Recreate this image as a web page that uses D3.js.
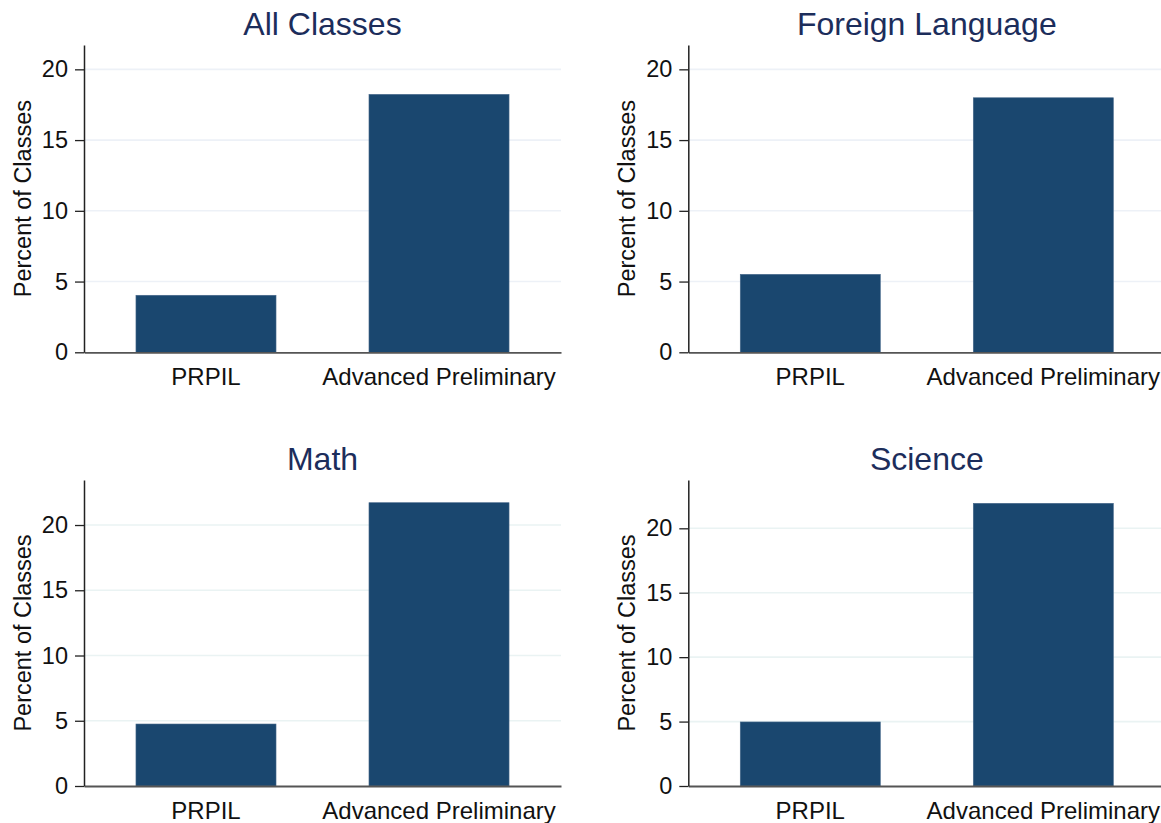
<!DOCTYPE html>
<html>
<head>
<meta charset="utf-8">
<script src="https://cdn.jsdelivr.net/npm/d3@7"></script>
<style>
  html, body { margin: 0; padding: 0; background: #fff; overflow: hidden; }
  svg { display: block; font-family: "Liberation Sans", Arial, sans-serif; }
</style>
</head>
<body>
<svg id="chart" width="1161" height="823"></svg>
<script>
// ---- data ----
const panelTitles = ["All Classes", "Foreign Language", "Math", "Science"];
const categories = ["PRPIL", "Advanced Preliminary"];
const prpilValues = [4.03, 5.51, 4.75, 4.97];
const advancedValues = [18.23, 17.99, 21.71, 21.94];
const yTicks = [0, 5, 10, 15, 20];
const yAxisMax = [21.72, 21.72, 23.45, 23.75];
const yAxisTitle = "Percent of Classes";

// ---- layout ----
const svg = d3.select("#chart");
const plotW = 477;
const panelLayout = [
  { left: 84,    top: 45,  bottom: 352.3 },
  { left: 688.3, top: 45,  bottom: 352.3 },
  { left: 84,    top: 480, bottom: 786 },
  { left: 688.3, top: 480, bottom: 786 }
];
const barColor = "#1a476f";

panelTitles.forEach((title, i) => {
  const L = panelLayout[i];
  const g = svg.append("g").attr("transform", `translate(${L.left},0)`);
  const x = d3.scaleBand().domain(categories).range([0, plotW])
    .paddingInner(0.399).paddingOuter(0.223);
  const y = d3.scaleLinear().domain([0, yAxisMax[i]]).range([L.bottom, L.top]);

  // gridlines
  g.append("g").selectAll("line").data(yTicks.filter(t => t > 0)).join("line")
    .attr("x1", 0).attr("x2", plotW)
    .attr("y1", d => y(d)).attr("y2", d => y(d))
    .attr("stroke", i < 2 ? "#edf1f7" : "#eaf3f3").attr("stroke-width", 1.6);

  // bars
  const vals = [prpilValues[i], advancedValues[i]];
  g.append("g").selectAll("rect").data(categories).join("rect")
    .attr("x", d => x(d))
    .attr("width", x.bandwidth())
    .attr("y", (d, j) => y(vals[j]))
    .attr("height", (d, j) => y(0) - y(vals[j]))
    .attr("fill", barColor)
    .attr("stroke", "#46688a").attr("stroke-width", 0.6);

  // x axis
  const xAxis = g.append("g").attr("transform", `translate(0,${L.bottom})`)
    .call(d3.axisBottom(x).tickSize(0).tickPadding(16));
  xAxis.select(".domain").attr("stroke", "#555").attr("stroke-width", 1.8);
  xAxis.selectAll("text").attr("font-size", 24).attr("fill", "#111")
    .attr("font-family", "Liberation Sans, Arial, sans-serif");

  // y axis
  const yAxis = g.append("g")
    .call(d3.axisLeft(y).tickValues(yTicks).tickSize(9).tickPadding(7).tickSizeOuter(0));
  yAxis.select(".domain").attr("stroke", "#222").attr("stroke-width", 1.5);
  yAxis.selectAll(".tick line").attr("stroke", "#222").attr("stroke-width", 1.3);
  yAxis.selectAll("text").attr("font-size", 23.5).attr("fill", "#111")
    .attr("font-family", "Liberation Sans, Arial, sans-serif");

  // y axis title
  g.append("text")
    .attr("transform", `translate(-53,${(L.top + L.bottom) / 2}) rotate(-90)`)
    .attr("text-anchor", "middle")
    .attr("font-size", 23.5).attr("fill", "#111")
    .text(yAxisTitle);

  // panel title
  g.append("text")
    .attr("x", plotW / 2).attr("y", L.top - 10)
    .attr("text-anchor", "middle")
    .attr("font-size", 32).attr("fill", "#1c2d5b")
    .text(title);
});
</script>
</body>
</html>
